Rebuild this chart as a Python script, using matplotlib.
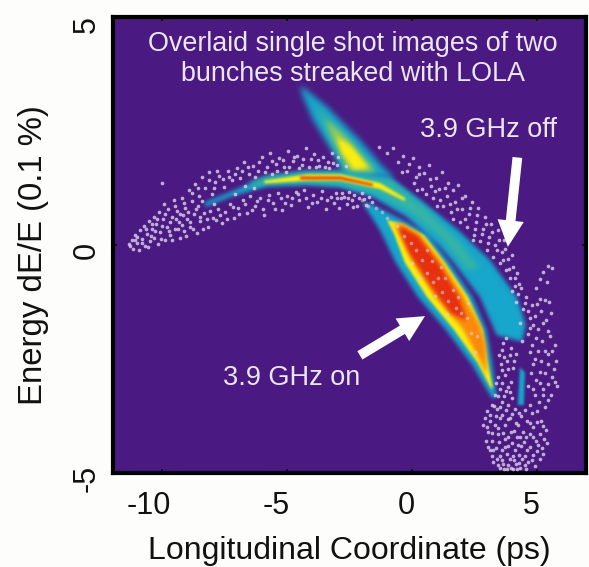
"""Overlaid LOLA streak images: bunch with and without the 3.9 GHz cavity."""

import numpy as np
import matplotlib
matplotlib.use('Agg')
import matplotlib.pyplot as plt
from matplotlib.transforms import ScaledTranslation

plt.rcParams['font.family'] = ['Liberation Sans', 'DejaVu Sans']

BG = '#4a1a82'
CYAN = '#17a6cc'
TEAL = '#35b5a5'
LIME = '#a8d048'
YELLOW = '#fdee10'
ORANGE = '#fb8a0c'
RED = '#e6300f'
SPECK = '#ddd2ea'

x_ticks = [-10, -5, 0, 5]
y_ticks = [-5, 0, 5]

# 3.9 GHz off, the long arc (outlines, x in ps, y in 0.1 %)
off_outer = [(-8.26, 0.94), (-7.27, 1.16), (-5.79, 1.51), (-4.19, 1.62), (-2.87, 1.62), (-0.88, 1.49),
             (0.44, 0.94), (1.80, 0.35), (3.11, -0.33), (4.19, -1.14), (4.55, -1.75), (4.40, -2.12),
             (3.39, -1.98), (2.71, -1.14), (1.64, -0.37), (1.12, -0.04), (-0.20, 0.61), (-1.56, 1.05),
             (-2.87, 1.27), (-4.19, 1.32), (-5.79, 1.29), (-7.27, 1.05), (-8.26, 0.83)]
off_teal = [(-6.47, 1.38), (-5.79, 1.49), (-4.19, 1.60), (-2.87, 1.60), (-0.88, 1.42), (0.44, 0.85),
            (1.92, 0.05), (2.71, -0.52), (2.22, -0.55), (1.12, 0.18), (-0.20, 0.76), (-1.56, 1.16),
            (-2.87, 1.32), (-4.19, 1.36), (-5.79, 1.34), (-6.47, 1.29)]
off_yellow = [(-5.9, 1.41), (-4.19, 1.55), (-2.87, 1.55), (-1.28, 1.36), (-0.28, 1.03), (-0.28, 0.96),
              (-1.28, 1.23), (-2.87, 1.41), (-4.19, 1.41), (-5.9, 1.35)]
off_red = [(-4.47, 1.50), (-2.87, 1.50), (-1.56, 1.34), (-1.56, 1.29), (-2.87, 1.44), (-4.47, 1.44)]

# 3.9 GHz on, the part above the arc
on_top_outer = [(-4.47, 3.51), (-3.39, 3.03), (-2.48, 2.52), (-2.08, 2.30), (-1.16, 1.71), (-0.68, 1.47),
                (-2.75, 1.55), (-3.15, 2.02), (-3.95, 2.74), (-4.35, 3.25)]
on_top_teal = [(-3.87, 3.07), (-2.67, 2.41), (-1.36, 1.60), (-2.55, 1.55), (-3.35, 2.41)]
on_top_lime = [(-3.45, 2.75), (-2.55, 2.30), (-1.50, 1.62), (-2.45, 1.58), (-3.10, 2.30)]
on_top_yellow = [(-3.0, 2.35), (-2.45, 2.18), (-1.75, 1.70), (-2.30, 1.66), (-2.80, 2.02)]

# 3.9 GHz on, the part under the arc
on_low_outer = [(-2.0, 0.95), (-1.28, 0.33), (-0.64, -0.39), (0.24, -1.14), (1.36, -1.86), (2.40, -2.62),
                (3.19, -3.35), (3.39, -3.35), (3.20, -2.59), (2.98, -1.86), (2.42, -1.14), (1.50, -0.39),
                (0.66, 0.22), (-0.20, 0.50), (-1.56, 0.88)]
on_low_yellow = [(-1.0, 0.55), (-0.70, 0.22), (-0.28, -0.39), (0.60, -1.14), (1.68, -1.86), (2.63, -2.59),
                 (3.15, -3.14), (3.23, -3.14), (3.03, -2.59), (2.83, -1.86), (2.24, -1.14), (1.32, -0.39),
                 (0.48, 0.22), (-0.36, 0.46)]
on_low_orange = [(-0.72, 0.46), (-0.40, 0.12), (0.0, -0.33), (0.92, -1.14), (2.00, -1.82), (2.71, -2.52),
                 (2.99, -2.85), (2.95, -2.19), (2.71, -1.75), (2.08, -1.14), (1.20, -0.39), (0.32, 0.22),
                 (-0.40, 0.46)]
on_low_red = [(-0.52, 0.34), (-0.12, -0.18), (0.72, -0.88), (1.55, -1.50), (2.20, -1.66), (1.84, -1.10),
              (1.04, -0.39), (0.24, 0.20), (-0.40, 0.40)]

streak = [(4.31, -2.68), (4.51, -2.79), (4.47, -3.51), (4.23, -3.51)]

# isolated single-electron speckle
speck_left = [
    (-11.3, 0.02), (-11.2, 0.12), (-11.15, -0.08), (-11.05, 0.22), (-11.0, 0.05), (-10.9, -0.12), (-10.85, 0.32),
    (-10.8, 0.14), (-10.7, 0.42), (-10.68, -0.02), (-10.6, 0.24), (-10.5, 0.52), (-10.48, 0.08), (-10.4, 0.34),
    (-10.32, 0.62), (-10.3, 0.16), (-10.22, 0.46), (-10.15, 0.02), (-10.1, 0.72), (-10.05, 0.28), (-9.95, 0.56),
    (-9.9, 0.9), (-9.85, 0.12), (-9.8, 0.4), (-9.75, 0.78), (-9.65, 0.22), (-9.6, 0.62), (-9.52, 0.98),
    (-9.45, 0.36), (-9.4, 0.74), (-9.3, 0.5), (-9.25, 0.16), (-9.2, 1.02), (-9.1, 0.3), (-9.05, 0.82),
    (-9.0, 0.58), (-8.9, 1.2), (-8.85, 0.4), (-8.8, 0.96), (-8.7, 0.68), (-8.65, 1.34), (-8.6, 0.26),
    (-8.5, 1.08), (-8.45, 0.52), (-8.4, 1.5), (-8.3, 0.7), (-8.25, 1.24), (-8.15, 0.4), (-8.1, 1.6),
    (-8.0, 1.12), (-7.95, 0.6), (-7.85, 1.38), (-7.75, 0.78), (-7.7, 1.52), (-7.6, 0.48), (-7.5, 1.28),
    (-7.45, 0.72), (-7.35, 1.62), (-7.25, 0.9), (-7.2, 1.42), (-7.1, 0.6), (-7.0, 1.68), (-6.95, 0.82),
    (-6.85, 1.48), (-6.75, 0.98), (-6.7, 1.82), (-6.6, 0.7), (-6.5, 1.56), (-6.45, 1.08), (-6.35, 1.74),
    (-6.25, 0.86), (-6.15, 1.62), (-6.05, 1.02), (-6.0, 1.92), (-5.9, 0.66), (-5.8, 1.7), (-5.7, 1.1),
    (-5.65, 2.02), (-5.55, 0.92), (-5.45, 1.78), (-5.35, 1.14), (-5.3, 1.9), (-5.2, 0.76), (-5.1, 1.72),
    (-5.0, 1.08), (-4.95, 2.06), (-4.85, 0.88), (-4.75, 1.84), (-4.65, 1.16), (-4.6, 1.96), (-4.5, 0.98),
    (-4.4, 1.76), (-4.3, 1.2), (-4.25, 2.12), (-4.15, 0.84), (-4.05, 1.88), (-3.95, 1.1), (-3.9, 2.0),
    (-3.8, 0.94), (-3.7, 1.74), (-3.6, 1.18), (-3.55, 1.92), (-3.45, 0.8), (-3.35, 1.82), (-3.25, 1.06),
    (-3.2, 2.02), (-3.1, 0.92), (-3.0, 1.76), (-2.9, 0.82), (-2.8, 1.14), (-2.7, 1.06), (-2.6, 0.9),
    (-2.5, 1.16), (-2.4, 0.98), (-2.3, 1.1), (-2.2, 0.86), (-3.0, 1.02), (-2.0, 1.15), (-1.9, 1.0),
    (-1.7, 1.05), (-8.55, 0.86), (-9.15, 0.66), (-7.9, 0.9), (-7.05, 1.12), (-6.3, 1.25), (-5.6, 1.56),
    (-5.05, 1.6), (-4.5, 1.68), (-3.85, 1.7), (-3.3, 1.68), (-6.65, 1.3), (-10.0, 1.35),
    # denser second pass over the same cloud
    (-11.25, -0.02), (-11.08, 0.1), (-10.97, 0.18), (-10.77, 0.04), (-10.62, 0.36), (-10.55, -0.05), (-10.43, 0.2),
    (-10.37, 0.46), (-10.25, 0.3), (-10.18, 0.58), (-10.02, 0.14), (-9.98, 0.42), (-9.88, 0.68), (-9.72, 0.3),
    (-9.68, 0.5), (-9.58, 0.1), (-9.48, 0.86), (-9.42, 0.56), (-9.33, 0.34), (-9.27, 0.68), (-9.18, 0.44),
    (-9.12, 0.92), (-9.02, 0.2), (-8.95, 0.72), (-8.88, 0.5), (-8.77, 1.14), (-8.73, 0.36), (-8.62, 0.8),
    (-8.55, 1.24), (-8.48, 0.62), (-8.38, 0.96), (-8.33, 0.34), (-8.2, 0.56), (-8.12, 1.42), (-8.05, 0.74),
    (-7.92, 1.26), (-7.82, 0.54), (-7.78, 1.62), (-7.65, 0.66), (-7.55, 1.44), (-7.4, 0.56), (-7.3, 1.5),
    (-7.15, 0.84), (-7.08, 1.56), (-6.9, 0.68), (-6.8, 1.62), (-6.68, 0.9), (-6.55, 1.72), (-6.4, 0.76),
    (-6.28, 1.5), (-6.18, 0.96), (-6.1, 1.82), (-5.95, 0.8), (-5.85, 1.6), (-5.75, 0.98), (-5.6, 1.84),
    (-5.48, 0.8), (-5.4, 1.62), (-5.25, 1.02), (-5.15, 1.86), (-5.08, 0.92), (-4.9, 1.72), (-4.8, 1.04),
    (-4.7, 1.94), (-4.55, 1.12), (-4.35, 1.88), (-4.22, 1.02), (-4.1, 1.72), (-4.0, 0.92), (-3.75, 1.86),
    (-3.65, 1.02), (-3.48, 1.72), (-3.4, 0.98), (-3.15, 1.8), (-3.05, 1.14), (-2.95, 1.92), (-2.85, 1.02),
    (-2.65, 1.74), (-2.55, 1.04), (-2.35, 0.84), (-2.12, 1.02), (-1.85, 0.88), (-1.6, 0.94),
]
speck_mid = [
    (-1.3, 2.15), (-1.0, 2.02), (-0.75, 2.12), (-0.55, 1.82), (-0.35, 1.95), (-0.2, 1.62), (-0.1, 1.78),
    (0.05, 1.9), (0.15, 1.5), (0.3, 1.72), (0.42, 1.22), (0.5, 1.58), (0.68, 1.75), (0.75, 1.3),
    (0.85, 1.02), (0.95, 1.48), (1.08, 1.22), (1.18, 1.6), (1.25, 0.85), (1.38, 1.08), (1.45, 1.36),
    (1.55, 0.72), (1.65, 1.2), (1.72, 0.95), (1.85, 1.32), (1.9, 0.5), (2.0, 0.8), (2.1, 1.08),
    (2.2, 0.4), (2.28, 0.68), (2.38, 0.95), (2.46, 0.22), (2.55, 0.5), (2.65, 0.82), (2.72, 0.08),
    (2.82, 0.36), (2.92, 0.62), (3.0, -0.1), (3.08, 0.18), (3.16, 0.46), (3.25, -0.26), (3.32, 0.0),
    (3.42, 0.32), (3.5, -0.4), (3.58, -0.15), (3.66, 0.1), (3.75, -0.55), (3.85, -0.3), (3.92, -0.72),
    (4.02, -0.48), (4.1, -0.9), (4.2, -0.62), (1.0, 0.85), (0.2, 1.2), (-0.4, 1.6),
    # second pass, tighter to the arc
    (0.1, 1.35), (0.58, 1.12), (0.92, 1.18), (1.12, 0.98), (1.32, 1.24), (1.5, 0.9), (1.78, 0.78),
    (1.98, 1.02), (2.12, 0.56), (2.32, 0.82), (2.5, 0.34), (2.6, 0.66), (2.78, 0.24), (2.96, 0.46),
    (3.02, 0.05), (3.2, 0.28), (3.38, -0.12), (3.46, 0.12), (3.62, -0.32), (3.72, -0.08), (3.88, -0.52),
    (3.98, -0.22), (4.12, -0.72), (4.28, -0.85), (1.62, 0.58), (2.42, 0.12), (0.7, 1.45), (0.3, 1.55),
]
speck_on_red = [
    (-0.3, 0.2), (-0.05, 0.05), (0.15, -0.12), (0.0, -0.4), (0.42, -0.32), (0.6, -0.62), (0.3, -0.72),
    (0.85, -0.82), (1.05, -0.72), (1.2, -1.02), (0.9, -1.12), (1.42, -1.22), (1.62, -0.98), (1.75, -1.38),
    (1.4, -1.52), (2.2, -1.6), (2.35, -1.92), (2.6, -2.0), (2.5, -2.35), (-0.6, 0.42), (-1.0, 0.6),
    (-1.45, 0.82), (0.62, -0.1), (1.15, -0.48), (1.95, -1.5), (-1.2, 0.72), (-1.75, 0.86), (-2.0, 0.98),
    (0.8, -0.35), (1.3, -0.72), (1.85, -1.15), (2.25, -1.28),
]
speck_right = [
    (4.0, -1.0), (4.15, -1.25), (4.35, -0.95), (4.45, -1.4), (4.3, -1.7), (4.55, -1.15), (4.7, -1.6),
    (4.62, -1.95), (4.4, -2.1), (4.8, -2.2), (4.85, -1.75), (5.0, -1.3), (5.15, -1.45), (5.05, -1.85),
    (5.3, -1.2), (5.45, -0.45), (5.6, -0.5), (5.25, -0.6), (5.1, -0.75), (4.95, -0.95), (5.4, -0.82),
    (5.35, -1.65), (5.55, -1.5), (5.2, -2.1), (5.5, -2.0), (5.7, -2.2), (5.75, -2.55), (5.45, -2.4),
    (5.15, -2.55), (4.9, -2.5), (4.7, -2.35), (5.3, -2.8), (5.6, -2.9), (5.8, -3.1), (5.55, -3.3),
    (5.25, -3.15), (4.95, -2.95), (4.75, -2.8), (3.6, -2.3), (3.75, -2.05), (3.95, -2.25), (4.15, -2.4),
    (3.55, -2.6), (3.8, -2.55), (4.05, -2.7), (3.45, -2.9), (3.7, -2.85), (3.95, -3.0), (3.5, -3.15),
    (3.75, -3.2), (4.0, -3.35), (3.6, -3.45), (3.85, -3.5), (4.1, -3.6), (4.65, -3.1), (4.9, -3.3),
    (4.7, -3.5), (5.0, -3.65), (5.3, -3.55), (5.15, -3.85), (3.4, -3.6), (3.2, -3.5), (3.0, -3.65),
    (3.1, -3.85), (2.85, -3.95), (3.05, -4.1), (3.3, -3.95), (3.5, -3.8), (3.7, -3.95), (3.9, -3.8),
    (4.15, -3.9), (4.35, -3.75), (4.6, -3.85), (4.85, -4.0), (5.1, -4.15), (5.35, -4.05), (5.4, -4.35),
    (5.2, -4.45), (4.95, -4.3), (4.7, -4.15), (4.45, -4.1), (4.2, -4.2), (3.95, -4.1), (3.7, -4.25),
    (3.45, -4.15), (3.2, -4.3), (2.95, -4.3), (3.1, -4.5), (3.35, -4.45), (3.6, -4.5), (3.85, -4.4),
    (4.1, -4.5), (4.35, -4.4), (4.6, -4.5), (4.85, -4.6), (5.1, -4.7), (4.9, -4.85), (4.65, -4.75),
    (4.4, -4.7), (4.15, -4.8), (3.9, -4.7), (3.65, -4.8), (3.4, -4.7), (3.5, -4.9), (3.8, -4.92),
    (4.05, -4.92), (4.3, -4.9), (4.55, -4.92), (3.25, -4.75), (5.25, -3.3), (3.3, -3.3), (4.25, -3.95),
    # second pass
    (4.22, -1.08), (4.5, -1.28), (4.62, -1.45), (4.78, -1.32), (4.92, -1.55), (4.72, -1.82), (4.95, -2.05),
    (5.22, -1.72), (5.12, -1.18), (5.48, -1.25), (5.42, -1.88), (5.58, -2.32), (5.32, -2.32), (5.05, -2.32),
    (4.82, -2.62), (5.12, -2.78), (5.42, -2.62), (5.68, -2.72), (5.72, -3.0), (5.42, -3.05), (5.1, -3.02),
    (4.82, -3.15), (5.08, -3.45), (5.42, -3.4), (4.78, -3.68), (3.65, -2.15), (3.48, -2.42), (3.68, -2.45),
    (3.9, -2.42), (4.08, -2.55), (3.58, -2.75), (3.82, -2.72), (3.35, -3.02), (3.6, -3.02), (3.85, -3.12),
    (3.42, -3.32), (3.68, -3.32), (3.92, -3.22), (3.28, -3.52), (3.5, -3.55), (3.75, -3.62), (4.0, -3.7),
    (3.12, -3.72), (3.35, -3.75), (3.6, -3.72), (3.82, -3.82), (4.28, -3.68), (4.52, -3.62), (4.72, -3.9),
    (4.98, -3.88), (5.22, -3.98), (2.92, -3.8), (2.98, -4.0), (3.18, -4.12), (3.42, -4.02), (3.62, -4.12),
    (3.85, -4.2), (4.08, -4.08), (4.32, -4.22), (4.55, -4.2), (4.82, -4.2), (5.05, -4.38), (5.28, -4.25),
    (3.02, -4.42), (3.25, -4.5), (3.48, -4.32), (3.72, -4.42), (3.98, -4.35), (4.22, -4.38), (4.48, -4.32),
    (4.72, -4.42), (4.98, -4.52), (5.22, -4.58), (3.2, -4.62), (3.52, -4.62), (3.78, -4.58), (4.02, -4.62),
    (4.28, -4.6), (4.52, -4.62), (4.78, -4.72), (3.58, -4.72), (3.82, -4.82), (4.08, -4.72), (4.28, -4.78),
    (4.52, -4.82), (3.42, -4.82), (3.68, -4.92), (3.95, -4.88), (4.2, -4.92),
]

# annotation arrows: (tail, tip)
arrow_off = ((4.21, 1.92), (3.83, -0.04))
arrow_on = ((-2.08, -2.42), (0.52, -1.56))

title_lines = 'Overlaid single shot images of two\nbunches streaked with LOLA'

# tick label nudges in pixels, the labels sit off the tick marks in the picture
x_label_shift = {-10: -13, -5: -11, 0: -6, 5: -6}
y_label_shift = {-5: -5, 0: -5, 5: -8}


def blur(radius):
    """agg_filter doing a repeated box blur, the reference is a soft scan."""
    def _filter(img, dpi):
        pad = radius * 4
        a = np.pad(img, ((pad, pad), (pad, pad), (0, 0)))
        a[..., :3] *= a[..., 3:]
        k = np.ones(2 * radius + 1) / (2 * radius + 1)
        for _ in range(2):
            a = np.apply_along_axis(lambda v: np.convolve(v, k, mode='same'), 0, a)
            a = np.apply_along_axis(lambda v: np.convolve(v, k, mode='same'), 1, a)
        alpha = np.clip(a[..., 3:], 1e-4, 1)
        a[..., :3] = np.clip(a[..., :3] / alpha, 0, 1)
        return a, -pad, -pad
    return _filter


def draw_outline(ax, outline, color, zorder, radius=2):
    xs, ys = zip(*outline)
    for poly in ax.fill(xs, ys, color=color, lw=0, zorder=zorder):
        poly.set_agg_filter(blur(radius))
        poly.set_rasterized(True)


fig = plt.figure(figsize=(5.89, 5.67), dpi=100, facecolor='#fdfdfb')
ax = fig.add_axes([113 / 589, 1 - 473 / 567, 473 / 589, 456 / 567], facecolor=BG)

draw_outline(ax, on_top_outer, CYAN, 2, radius=3)
draw_outline(ax, on_top_teal, TEAL, 2.1, radius=3)
draw_outline(ax, on_top_lime, LIME, 2.15, radius=3)
draw_outline(ax, on_top_yellow, YELLOW, 2.2, radius=2)
draw_outline(ax, on_low_outer, CYAN, 2, radius=2)
draw_outline(ax, on_low_yellow, YELLOW, 2.2, radius=1)
draw_outline(ax, on_low_orange, ORANGE, 2.3)
draw_outline(ax, on_low_red, RED, 2.4)
draw_outline(ax, off_outer, CYAN, 3)
draw_outline(ax, off_teal, TEAL, 3.1, radius=3)
draw_outline(ax, off_yellow, YELLOW, 3.2, radius=1)
draw_outline(ax, off_red, RED, 3.3, radius=1)
draw_outline(ax, streak, CYAN, 3, radius=1)

for points, alpha in [(speck_left, 0.8), (speck_mid, 0.8), (speck_on_red, 0.55), (speck_right, 0.8)]:
    xs, ys = zip(*points)
    ax.scatter(xs, ys, s=7, c=SPECK, alpha=alpha, linewidths=0, zorder=4)

for tail, tip in (arrow_off, arrow_on):
    ax.annotate('', xy=tip, xytext=tail, zorder=5,
                arrowprops=dict(width=7, headwidth=19, headlength=19, color='white', shrink=0, lw=0))

ax.text(-2.36, 4.08, title_lines, color='#ece6f2', fontsize=19.4, ha='center', va='center', linespacing=1.2, zorder=6)
ax.text(3.07, 2.52, '3.9 GHz off', color='#ece6f2', fontsize=19.5, ha='center', va='center', zorder=6)
ax.text(-4.79, -2.92, '3.9 GHz on', color='#ece6f2', fontsize=19.5, ha='center', va='center', zorder=6)

ax.set_xlim(-11.94, 6.95)
ax.set_ylim(-5, 5)
ax.set_xticks(x_ticks)
ax.set_xticklabels([str(v) for v in x_ticks])
ax.set_yticks(y_ticks)
ax.set_yticklabels([str(v) for v in y_ticks], rotation=90, va='center')
ax.tick_params(direction='in', length=3, width=1.5, labelsize=22, top=True, right=True, colors='#111111')
ax.tick_params(axis='x', pad=13)
ax.tick_params(axis='y', pad=8)
for spine in ax.spines.values():
    spine.set_linewidth(3)
    spine.set_color('black')

for label, v in zip(ax.get_xticklabels(), x_ticks):
    label.set_transform(label.get_transform() + ScaledTranslation(x_label_shift[v] / 100, 0, fig.dpi_scale_trans))
for label, v in zip(ax.get_yticklabels(), y_ticks):
    label.set_transform(label.get_transform() + ScaledTranslation(0, y_label_shift[v] / 100, fig.dpi_scale_trans))

ax.set_xlabel('Longitudinal Coordinate (ps)', fontsize=23, color='#111111', va='center')
ax.set_ylabel('Energy dE/E (0.1 %)', fontsize=23.7, color='#111111', va='center')
ax.xaxis.set_label_coords(0.5, -0.170)
ax.yaxis.set_label_coords(-0.169, 0.478)

fig.savefig('out.png', dpi=100)
